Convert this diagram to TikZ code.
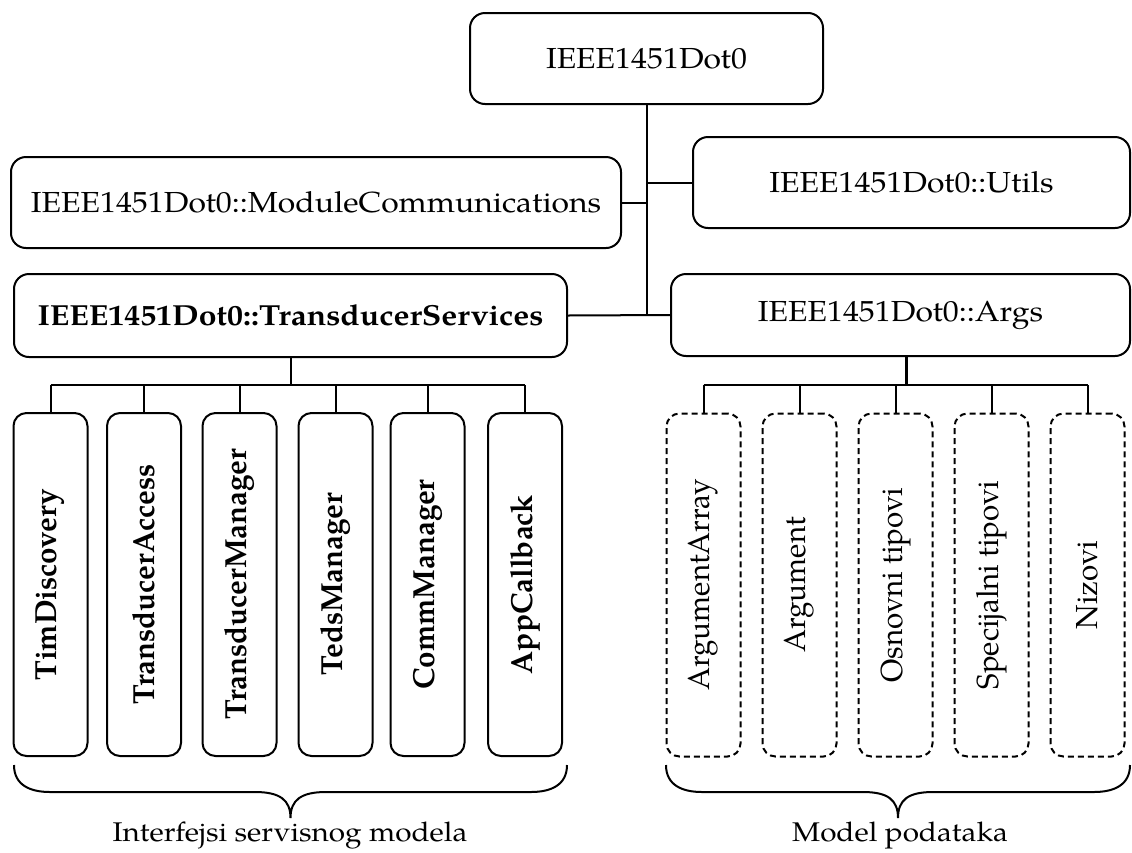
\documentclass[tikz,border=0pt]{standalone}
\usepackage{fontspec}
\setmainfont{TeX Gyre Pagella}
\usepackage{graphicx}
\newcommand{\hx}[1]{\scalebox{1.1}[1]{#1}}
\newcommand{\vtxt}[1]{\rotatebox{90}{\scalebox{1.02}[1.05]{#1}}}
\tikzset{
  box/.style={draw, line width=2pt, rounded corners=15pt, inner sep=0pt, font=\fontsize{29}{34}\selectfont},
  kid/.style={draw, line width=2pt, rounded corners=13pt, minimum width=74pt, minimum height=343pt, inner sep=0pt, font=\fontsize{29}{34}\selectfont\bfseries},
  dkid/.style={draw, line width=2pt, rounded corners=13pt, minimum width=74pt, minimum height=343pt, inner sep=0pt, dash pattern=on 6pt off 4pt, font=\fontsize{29}{34}\selectfont},
  wire/.style={line width=2pt},
  lbl/.style={font=\fontsize{27}{32}\selectfont, anchor=base, inner sep=0pt}
}
\begin{document}
\begin{tikzpicture}[x=1pt,y=-1pt]
\useasboundingbox (0,0) rectangle (1132,852);
\node[box, minimum width=353pt, minimum height=91pt] (top) at (646.5,58.5) {\hx{IEEE1451Dot0}};
\node[box, minimum width=610pt, minimum height=91pt] (mc) at (316,202.5) {\hx{IEEE1451Dot0::ModuleCommunications}};
\node[box, minimum width=437pt, minimum height=91pt] (ut) at (911.5,182.5) {\hx{IEEE1451Dot0::Utils}};
\node[box, minimum width=553pt, minimum height=83pt] (ts) at (290.5,315.5) {\hx{\bfseries IEEE1451Dot0::TransducerServices}};
\node[box, minimum width=459pt, minimum height=82pt] (ar) at (900.5,315) {\hx{IEEE1451Dot0::Args}};

\node[kid] (c1) at (50.5,584.5) {\vtxt{TimDiscovery}};
\node[kid] (c2) at (144,584.5) {\vtxt{TransducerAccess}};
\node[kid] (c3) at (239.5,584.5) {\vtxt{TransducerManager}};
\node[kid] (c4) at (335.5,584.5) {\vtxt{TedsManager}};
\node[kid] (c5) at (427.5,584.5) {\vtxt{CommManager}};
\node[kid] (c6) at (525,584.5) {\vtxt{AppCallback}};

\node[dkid] (d1) at (703.5,585) {\vtxt{ArgumentArray}};
\node[dkid] (d2) at (799.5,585) {\vtxt{Argument}};
\node[dkid] (d3) at (895.5,585) {\vtxt{Osnovni tipovi}};
\node[dkid] (d4) at (991.5,585) {\vtxt{Specijalni tipovi}};
\node[dkid] (d5) at (1087.5,585) {\vtxt{Nizovi}};

\coordinate (lbus) at (290.5,385);
\coordinate (rbus) at (906,385);
\coordinate (trunk) at (646.5,315);

% top-level connectors
\draw[wire] (top.south) -- (trunk);
\draw[wire] (mc.east) -- (mc.east -| trunk);
\draw[wire] (ut.west) -- (ut.west -| trunk);
\draw[wire] (ts.east) -- (ar.west);

% left bus
\draw[wire] (ts.south) -- (lbus);
\draw[wire] (c1.north |- lbus) -- (c6.north |- lbus);
\foreach \n in {c1,c2,c3,c4,c5,c6} \draw[wire] (\n.north) -- (\n.north |- lbus);

% right bus
\draw[line width=3pt] (ar.south -| rbus) -- (rbus);
\draw[wire] (d1.north |- rbus) -- (d5.north |- rbus);
\foreach \n in {d1,d2,d3,d4,d5} \draw[wire] (\n.north) -- (\n.north |- rbus);

% braces
\draw[wire] (14,765) .. controls (14,785) and (30,792) .. (50,792) -- (255,792)
  .. controls (280,792) and (290.5,800) .. (290.5,818)
  .. controls (290.5,800) and (301,792) .. (326,792) -- (531,792)
  .. controls (551,792) and (567,785) .. (567,765);
\draw[wire] (666,765) .. controls (666,785) and (682,792) .. (702,792) -- (863,792)
  .. controls (888,792) and (898,800) .. (898,818)
  .. controls (898,800) and (908,792) .. (933,792) -- (1094,792)
  .. controls (1114,792) and (1130,785) .. (1130,765);

\node[lbl] (l1) at (290,841) {\hx{Interfejsi servisnog modela}};
\node[lbl] (l2) at (900,841) {\hx{Model podataka}};
\end{tikzpicture}
\end{document}
